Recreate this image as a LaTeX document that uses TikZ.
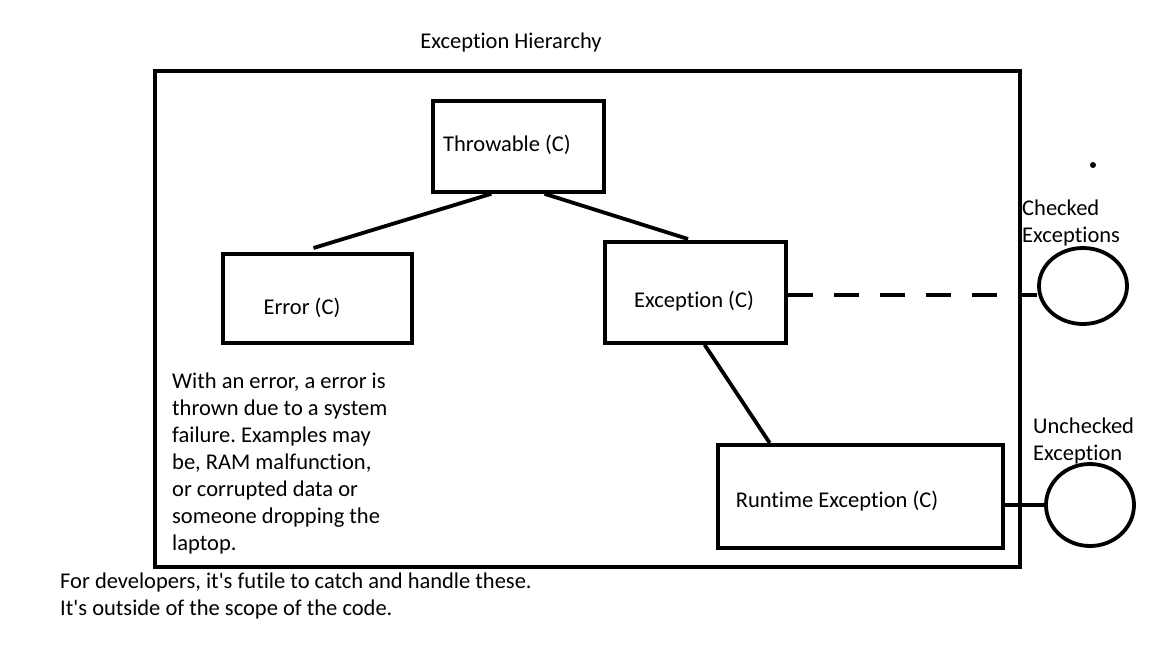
\documentclass[tikz,border=0pt]{standalone}
\usepackage{fontspec}
\setmainfont{Carlito}[Ligatures={TeXOff,NoCommon}]
\usetikzlibrary{calc,shapes.geometric}
\frenchspacing
\begin{document}
\begin{tikzpicture}[x=1pt,y=-1pt,
  thick line/.style={line width=3.8pt},
  box/.style={draw,line width=3.8pt,rectangle,inner sep=0pt},
  txt/.style={inner sep=0pt,font=\fontsize{22.5}{27}\selectfont,text=black},
  circ/.style={draw,line width=3.8pt,ellipse,inner sep=0pt}]
\useasboundingbox (0,0) rectangle (1152,648);
\fill[white] (0,0) rectangle (1152,648);
% outer frame
\node[box,minimum width=865pt,minimum height=496pt,anchor=north west] (frame) at (153,69) {};
\node[txt] (title) at (511,43) {Exception Hierarchy};
% boxes
\node[box,minimum width=171pt,minimum height=91pt,anchor=north west] (thr) at (431,99) {};
\node[box,minimum width=189pt,minimum height=89pt,anchor=north west] (err) at (221,252) {};
\node[box,minimum width=181pt,minimum height=101pt,anchor=north west] (exc) at (603,240) {};
\node[box,minimum width=285pt,minimum height=103pt,anchor=north west] (rte) at (716,443) {};
% labels
\node[txt] (thrt) at (507,145) {Throwable (C)};
\node[txt] (errt) at (302,308) {Error (C)};
\node[txt] (exct) at (694,301) {Exception (C)};
\node[txt] (rtet) at (837,501) {Runtime Exception (C)};
% circles
\node[circ,minimum width=88pt,minimum height=76pt] (chk) at (1083,286) {};
\node[circ,minimum width=88pt,minimum height=82pt] (unc) at (1090,505) {};
\node[txt,anchor=north west,align=left] (chkt) at (1022,199.5) {Checked\\Exceptions};
\node[txt,anchor=north west,align=left] (unct) at (1033,417.5) {Unchecked\\Exception};
\fill (1093,165) circle (3pt);
% connectors
\draw[thick line] ($(thr.south west)!0.345!(thr.south east)$) -- ($(err.north west)!0.48!(err.north east)+(0,-4)$);
\draw[thick line] ($(thr.south west)!0.65!(thr.south east)$) -- ($(exc.north west)!0.46!(exc.north east)+(0,-1)$);
\draw[thick line] ($(exc.south west)!0.55!(exc.south east)$) -- ($(rte.north west)!0.186!(rte.north east)$);
\draw[thick line,dash pattern=on 25pt off 21pt] ($(exc.east)+(0,2.5)$) -- ($(exc.east -| chk.west)+(0,2.5)$);
\draw[thick line] (rte.east |- unc.west) -- (unc.west);
% texts
\node[txt,anchor=north west,align=left] (note) at (172,372.5) {With an error, a error is\\thrown due to a system\\failure. Examples may\\be, RAM malfunction,\\or corrupted data or\\someone dropping the\\laptop.};
\node[txt,anchor=north west,align=left] (dev) at (60,572.5) {For developers, it's futile to catch and handle these.\\It's outside of the scope of the code.};
\end{tikzpicture}
\end{document}
